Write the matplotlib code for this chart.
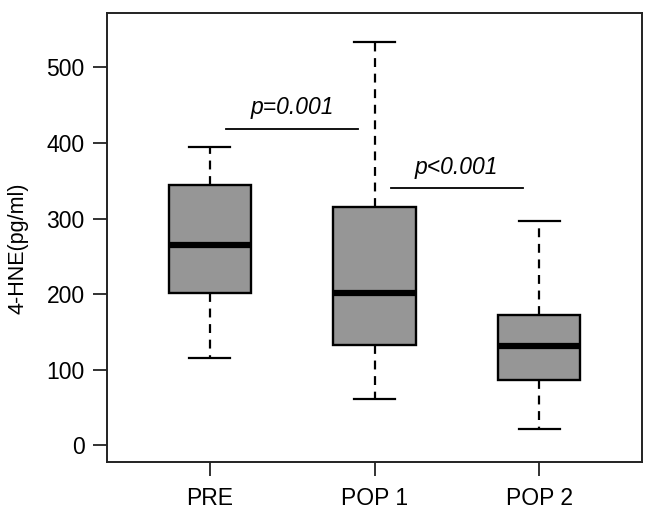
import matplotlib
matplotlib.use("Agg")
import matplotlib.pyplot as plt

plt.rcParams["font.family"] = ["Liberation Sans", "DejaVu Sans"]

# five-number summaries
groups  = ["PRE", "POP 1", "POP 2"]
whislo  = [115, 61, 22]
q1      = [201, 133, 86]
med     = [265, 202, 131]
q3      = [344, 315, 173]
whishi  = [395, 534, 297]

# significance bars: (x start, x end, y, label)
sig_x0   = [1.1, 2.1]
sig_x1   = [1.9, 2.9]
sig_y    = [419, 340]
sig_txt  = ["p=0.001", "p<0.001"]

stats = []
for i in range(len(groups)):
    stats.append(dict(label=groups[i], whislo=whislo[i], q1=q1[i], med=med[i],
                      q3=q3[i], whishi=whishi[i], fliers=[]))

fig = plt.figure(figsize=(6.46, 5.20), dpi=100)
ax = fig.add_axes([107/646, 1-462/520, (642-107)/646, (462-13)/520])

ax.bxp(stats, positions=[1, 2, 3], widths=0.5, patch_artist=True,
       boxprops=dict(facecolor="#969696", edgecolor="black", linewidth=1.7),
       medianprops=dict(color="black", linewidth=4.5, solid_capstyle="butt"),
       whiskerprops=dict(color="black", linewidth=1.6, linestyle=(0, (4, 3))),
       capprops=dict(color="black", linewidth=1.6),
       capwidths=0.25)

for i in range(len(sig_txt)):
    ax.plot([sig_x0[i], sig_x1[i]], [sig_y[i], sig_y[i]], color="black", lw=1.3)
    ax.text((sig_x0[i] + sig_x1[i]) / 2, sig_y[i] + 13, sig_txt[i],
            ha="center", va="bottom", fontsize=16.5, style="italic")

ax.set_xlim(0.375, 3.625)
ax.set_ylim(-22, 572)
ax.set_yticks([0, 100, 200, 300, 400, 500])
ax.set_xticks([1, 2, 3])
ax.set_xticklabels(groups)
ax.tick_params(axis="both", labelsize=16.5, length=10, width=1.3, color="#222222")
ax.tick_params(axis="x", pad=8)
ax.tick_params(axis="y", pad=6)
for s in ax.spines.values():
    s.set_linewidth(1.4)
    s.set_color("#222222")

fig.text(18/646, 1-248/520, "4-HNE(pg/ml)", rotation=90, ha="center", va="center",
         fontsize=15.5)

fig.savefig("out.png", dpi=100)
